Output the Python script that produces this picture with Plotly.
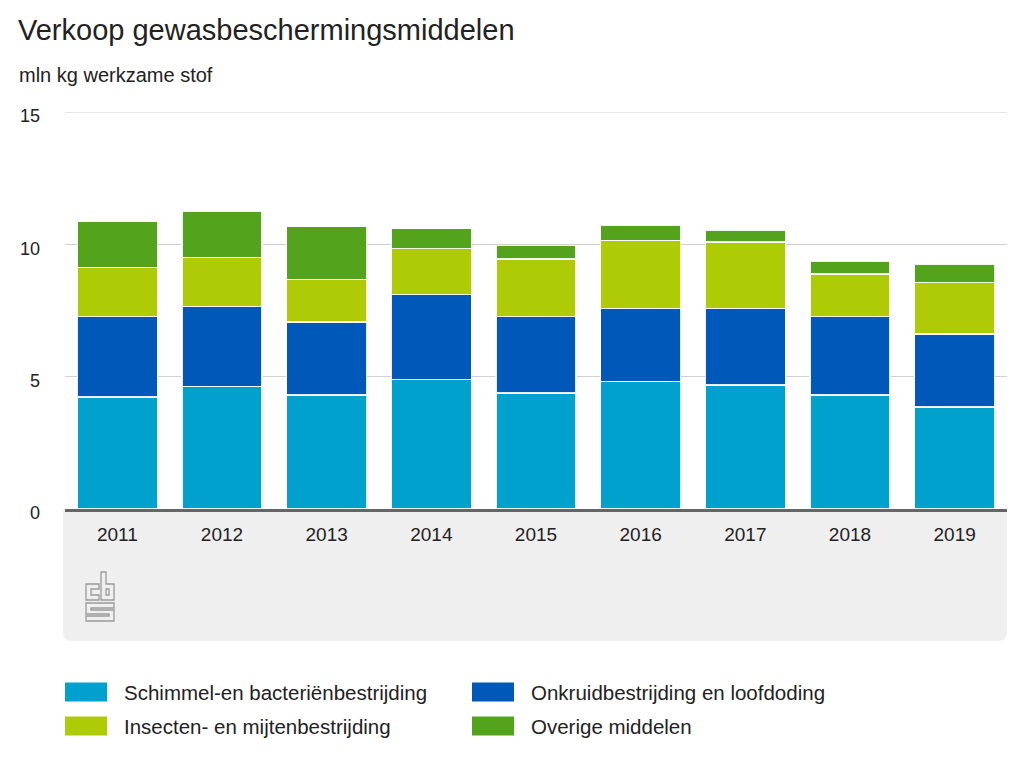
import plotly.graph_objects as go

years = ["2011", "2012", "2013", "2014", "2015", "2016", "2017", "2018", "2019"]
schimmel = [4.24, 4.63, 4.31, 4.89, 4.38, 4.82, 4.69, 4.31, 3.86]
onkruid = [3.03, 3.03, 2.76, 3.21, 2.89, 2.76, 2.89, 2.96, 2.76]
insecten = [1.86, 1.85, 1.61, 1.74, 2.18, 2.57, 2.51, 1.60, 1.93]
overige = [1.73, 1.74, 1.99, 0.75, 0.51, 0.58, 0.45, 0.50, 0.70]

series_names = ["Schimmel-en bacteriënbestrijding", "Onkruidbestrijding en loofdoding",
                "Insecten- en mijtenbestrijding", "Overige middelen"]
series_values = [schimmel, onkruid, insecten, overige]
colors = ["#00a1cd", "#0058b8", "#afcb05", "#53a31d"]
y_ticks = [0, 5, 10, 15]

FONT = "Liberation Sans, Arial, Helvetica, sans-serif"
OFF = 8  # page body margin
W, H = 1024, 768
# screen coordinates of the plot area
SL, SR, ST, SB = 65, 1007, 112, 509
L, R, T, B = SL - OFF, SR - OFF, ST - OFF, SB - OFF


def px(x):
    return (x - SL) / (SR - SL)


def py(y):
    return (SB - y) / (SB - ST)


fig = go.Figure()
for name, vals, col in zip(series_names, series_values, colors):
    fig.add_trace(go.Bar(
        x=years, y=vals, name=name,
        marker=dict(color=col, line=dict(color="rgba(255,255,255,0.9)", width=1.5)),
        showlegend=False,
        hovertemplate="%{x}: %{y}<extra>" + name + "</extra>",
    ))

shapes = []
# top gridline (at range maximum)
shapes.append(dict(type="line", xref="paper", yref="y", x0=0, x1=1, y0=max(y_ticks), y1=max(y_ticks),
                   line=dict(color="#d0d0d0", width=1), layer="below"))
# grey panel below the axis with rounded bottom corners
r = 9
x0, x1 = px(63), px(1007)
shapes.append(dict(
    type="path", xref="paper", yref="paper", layer="below",
    path=(f"M {x0},{py(509)} L {x1},{py(509)} L {x1},{py(641 - r)} "
          f"Q {x1},{py(641)} {px(1007 - r)},{py(641)} L {px(63 + r)},{py(641)} "
          f"Q {x0},{py(641)} {x0},{py(641 - r)} Z"),
    fillcolor="#efefef", line=dict(width=0),
))

# CBS logo (outlined)
logo_polys = [
    [(99, 584), (86, 584), (86, 600), (99, 600), (99, 595), (91, 595), (91, 589), (99, 589)],
    [(101, 572), (106, 572), (106, 584), (114, 584), (114, 600), (101, 600)],
    [(106, 589), (109, 589), (109, 595), (106, 595)],
    [(86, 603), (114, 603), (114, 608), (91, 608), (91, 610), (114, 610), (114, 621),
     (86, 621), (86, 616), (109, 616), (109, 614), (86, 614)],
]
for poly in logo_polys:
    p = "M " + " L ".join(f"{px(a)},{py(b)}" for a, b in poly) + " Z"
    shapes.append(dict(type="path", xref="paper", yref="paper", path=p,
                       fillcolor="rgba(0,0,0,0)", line=dict(color="#9a9a9a", width=1.3)))

annotations = [
    dict(text="mln kg werkzame stof", xref="paper", yref="paper",
         x=px(17), y=py(75), xanchor="left", yanchor="middle", showarrow=False,
         font=dict(family=FONT, size=20, color="#222")),
]

# custom legend
leg_items = [
    (series_names[0], colors[0], 65, 692),
    (series_names[1], colors[1], 472, 692),
    (series_names[2], colors[2], 65, 726),
    (series_names[3], colors[3], 472, 726),
]
for name, col, lx, ly in leg_items:
    shapes.append(dict(type="rect", xref="paper", yref="paper",
                       x0=px(lx), x1=px(lx + 42), y0=py(ly + 9.5), y1=py(ly - 9.5),
                       fillcolor=col, line=dict(width=0)))
    annotations.append(dict(text=name, xref="paper", yref="paper",
                            x=px(lx + 57), y=py(ly), xanchor="left", yanchor="middle",
                            showarrow=False, font=dict(family=FONT, size=20.5, color="#222")))

fig.update_layout(
    width=W, height=H,
    margin=dict(l=L, r=W - R, t=T, b=H - B, pad=0),
    paper_bgcolor="white", plot_bgcolor="white",
    barmode="stack", bargap=0.236,
    font=dict(family=FONT, color="#222"),
    title=dict(text="Verkoop gewasbeschermingsmiddelen", xref="container", yref="container",
               x=(18 - OFF) / W, y=1 - (30 - OFF) / H, xanchor="left", yanchor="middle",
               font=dict(family=FONT, size=29, color="#222")),
    xaxis=dict(showgrid=False, showline=True, linecolor="#666666", linewidth=3,
               ticks="", ticklabelstandoff=6, tickfont=dict(family=FONT, size=19, color="#222"),
               fixedrange=True),
    yaxis=dict(range=[0, 15], tickvals=y_ticks, ticktext=[str(v) for v in y_ticks],
               showgrid=True, gridcolor="#d0d0d0", gridwidth=1, zeroline=False,
               showline=False, ticks="", ticklabelstandoff=24, ticklabelshift=4,
               tickfont=dict(family=FONT, size=18, color="#222"), fixedrange=True),
    shapes=shapes, annotations=annotations,
    hovermode="closest",
)

fig.write_html("out.html")
